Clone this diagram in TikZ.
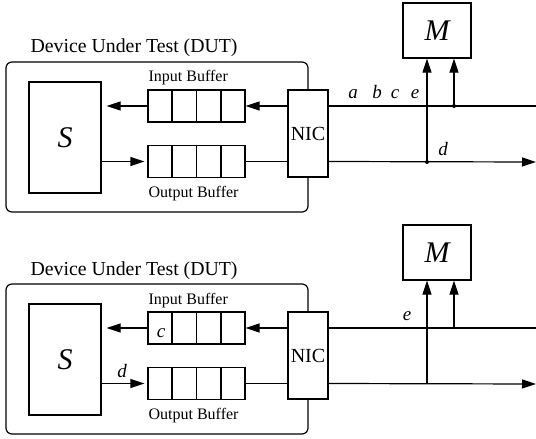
\documentclass[tikz,border=0pt]{standalone}
\usepackage{fontspec}
\setmainfont{Liberation Serif}
\usetikzlibrary{arrows.meta,calc}

\tikzset{
  box/.style={draw, inner sep=0pt},
  buf/.style={box, minimum width=48.5pt, minimum height=16pt},
  arr/.style={-{Triangle[length=7pt,width=4.5pt]}},
  lbl/.style={anchor=base, inner sep=0pt, font=\fontsize{9.5}{11}\selectfont\itshape},
  small/.style={anchor=base west, inner sep=0pt, font=\fontsize{8}{10}\selectfont},
}

\begin{document}
\begin{tikzpicture}[x=0.5pt, y=-0.5pt, line width=0.6pt]
    \useasboundingbox (0,0) rectangle (536,439);

    %========================
    % Both panels: DUT, buffers, NIC and monitor
    %========================
    \foreach \p/\dy in {1/0,2/222} {
    \begin{scope}[shift={(0,\dy)}]
        % Enclosure and its title
        \node[box, rounded corners=3pt, minimum width=151pt, minimum height=75pt] (dut\p) at (157,137) {};
        \node[anchor=base west, inner sep=0pt, font=\fontsize{9.9}{12}\selectfont] (title\p) at (30,53) {Device Under Test (DUT)};

        % Application
        \node[box, minimum width=36pt, minimum height=55.5pt, font=\fontsize{15}{18}\selectfont\itshape] (s\p) at (65,137.5) {S};

        % Buffers, four cells each
        \node[buf] (ib\p) at (196.5,106) {};
        \node[buf] (ob\p) at (196.5,161.5) {};
        \foreach \i in {1,2,3} {
            \draw ($(ib\p.north west)!\i/4!(ib\p.north east)$) -- ($(ib\p.south west)!\i/4!(ib\p.south east)$);
            \draw ($(ob\p.north west)!\i/4!(ob\p.north east)$) -- ($(ob\p.south west)!\i/4!(ob\p.south east)$);
        }
        \node[small] (iblbl\p) at (148,82) {Input Buffer};
        \node[small] (oblbl\p) at (148,197) {Output Buffer};

        % Network card on the enclosure edge
        \node[box, fill=white, minimum width=20pt, minimum height=43.5pt, font=\fontsize{10}{12}\selectfont] (nic\p) at (308,133.5) {NIC};

        % Monitor
        \node[box, minimum width=34pt, minimum height=27.5pt, font=\fontsize{15}{18}\selectfont\itshape] (m\p) at (437,30.5) {M};

        % Taps and line ends
        \coordinate (ja\p) at (427,162);
        \coordinate (jb\p) at (454,106);
        \coordinate (outa\p) at (536,106);
        \coordinate (outb\p) at (536,162);

        % Data path
        \draw[arr] (nic\p.west |- ib\p.east) -- (ib\p.east);
        \draw[arr, shorten >=2.5pt] (ib\p.west) -- (ib\p.west -| s\p.east);
        \draw[arr, shorten >=1.5pt] (s\p.east |- ob\p.west) -- (ob\p.west);
        \draw (ob\p.east) -- (ob\p.east -| nic\p.west);
        \draw (nic\p.east |- ib\p.east) -- (outa\p);
        \draw[arr] (nic\p.east |- ob\p.east) -- (outb\p);

        % Copies to the monitor
        \draw[arr] (ja\p) -- (ja\p |- m\p.south);
        \draw[arr] (jb\p) -- (jb\p |- m\p.south);
    \end{scope}
    }

    %========================
    % Panel 1: packets on the wire
    %========================
    \fill (ja1) circle[radius=1pt];
    \fill (jb1) circle[radius=1pt];
    \node[lbl] (pa) at (353,98) {a};
    \node[lbl] (pb) at (377,98) {b};
    \node[lbl] (pc) at (395,98) {c};
    \node[lbl] (pe) at (415,98) {e};
    \node[lbl] (pd) at (443,155) {d};

    %========================
    % Panel 2: packets in the buffers
    %========================
    \node[lbl] (qc) at (161,337) {c};
    \node[lbl] (qd) at (122,377) {d};
    \node[lbl] (qe) at (407,320) {e};

\end{tikzpicture}
\end{document}
